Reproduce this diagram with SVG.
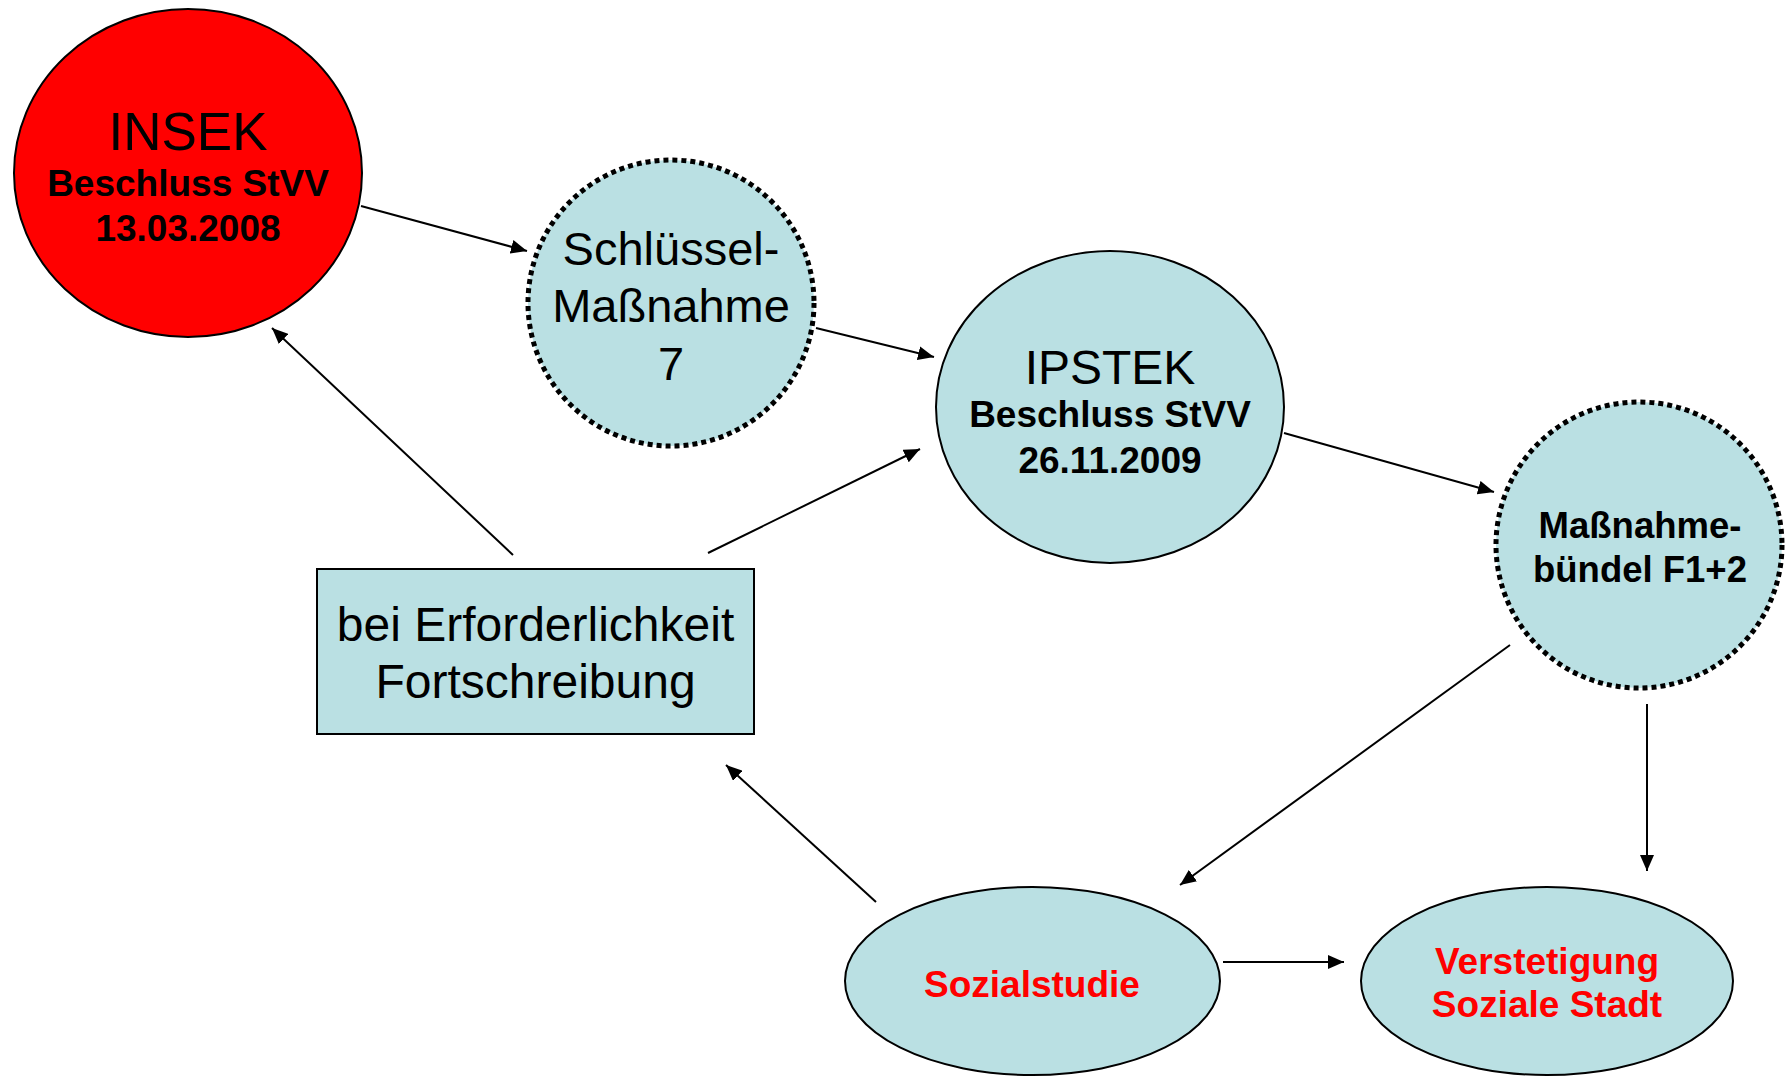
<svg xmlns="http://www.w3.org/2000/svg" width="1786" height="1076" viewBox="0 0 1786 1076">
<style>
.node{fill:#BAE0E3;stroke:#000;stroke-width:2}
.dot{fill:#BAE0E3;stroke:#000;stroke-width:5;stroke-dasharray:5 4}
.t{font-family:"Liberation Sans",Arial,sans-serif;text-anchor:middle;fill:#000}
.b{font-weight:bold}
.r{fill:#FF0000}
.c line{stroke:#000;stroke-width:2;marker-end:url(#ah)}
</style>
<defs>
<marker id="ah" viewBox="0 0 16 14" refX="16" refY="7" markerWidth="16" markerHeight="14" markerUnits="userSpaceOnUse" orient="auto">
<path d="M0,0 L16,7 L0,14 z" fill="#000"/>
</marker>
</defs>
<g class="c" id="connectors">
<line x1="361" y1="206" x2="527" y2="251"/>
<line x1="816" y1="328" x2="934" y2="357"/>
<line x1="1284" y1="433" x2="1494" y2="492"/>
<line x1="513" y1="555" x2="272" y2="328"/>
<line x1="708" y1="553" x2="920" y2="449"/>
<line x1="1510" y1="645" x2="1180" y2="885"/>
<line x1="1647" y1="704" x2="1647" y2="871"/>
<line x1="876" y1="902" x2="726" y2="765"/>
<line x1="1223" y1="962" x2="1344" y2="962"/>
</g>
<g id="insek">
<ellipse cx="188" cy="173" rx="174" ry="164" fill="#FF0000" stroke="#000" stroke-width="2"/>
<text class="t" x="188" y="150" font-size="53">INSEK</text>
<text class="t b" x="188" y="196" font-size="37">Beschluss StVV</text>
<text class="t b" x="188" y="241" font-size="37">13.03.2008</text>
</g>
<g id="schluessel">
<circle class="dot" cx="671" cy="303" r="143"/>
<text class="t" x="671" y="265" font-size="47">Schlüssel-</text>
<text class="t" x="671" y="322" font-size="47">Maßnahme</text>
<text class="t" x="671" y="380" font-size="47">7</text>
</g>
<g id="ipstek">
<ellipse class="node" cx="1110" cy="407" rx="174" ry="156"/>
<text class="t" x="1110" y="384" font-size="48">IPSTEK</text>
<text class="t b" x="1110" y="427" font-size="37">Beschluss StVV</text>
<text class="t b" x="1110" y="473" font-size="37">26.11.2009</text>
</g>
<g id="massnahmebuendel">
<circle class="dot" cx="1639" cy="545" r="143"/>
<text class="t b" x="1640" y="538" font-size="36.5">Maßnahme-</text>
<text class="t b" x="1640" y="582" font-size="36.5">bündel F1+2</text>
</g>
<g id="fortschreibung">
<rect class="node" x="317" y="569" width="437" height="165"/>
<text class="t" x="535.5" y="641" font-size="48">bei Erforderlichkeit</text>
<text class="t" x="535.5" y="698" font-size="48">Fortschreibung</text>
</g>
<g id="sozialstudie">
<ellipse class="node" cx="1032.5" cy="981" rx="187.5" ry="94"/>
<text class="t b r" x="1032" y="997" font-size="37">Sozialstudie</text>
</g>
<g id="verstetigung">
<ellipse class="node" cx="1547" cy="981" rx="186" ry="94"/>
<text class="t b r" x="1547" y="974" font-size="37">Verstetigung</text>
<text class="t b r" x="1547" y="1017" font-size="37">Soziale Stadt</text>
</g>
</svg>
